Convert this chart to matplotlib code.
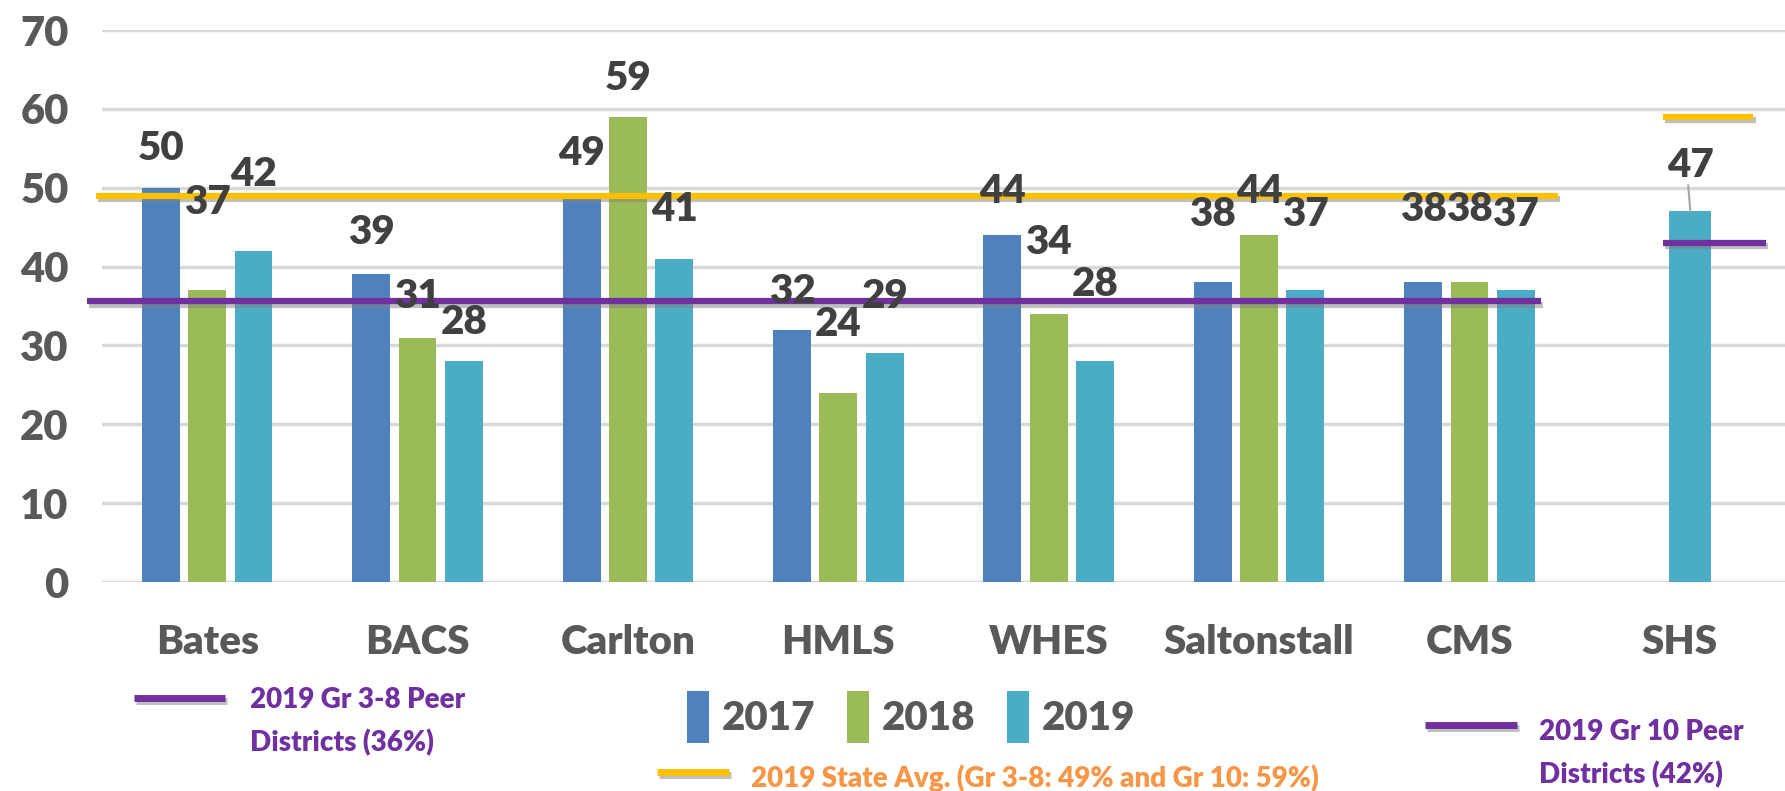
import matplotlib.pyplot as plt
import matplotlib.patheffects as pe
import numpy as np
from matplotlib.lines import Line2D
from matplotlib.patches import Patch

schools = ["Bates", "BACS", "Carlton", "HMLS", "WHES", "Saltonstall", "CMS", "SHS"]
years = ["2017", "2018", "2019"]
vals_2017 = [50, 39, 49, 32, 44, 38, 38, np.nan]
vals_2018 = [37, 31, 59, 24, 34, 44, 38, np.nan]
vals_2019 = [42, 28, 41, 29, 28, 37, 37, 47]

state_avg_38 = 49
state_avg_10 = 59
peer_38 = 35.6
peer_10 = 43

# how far each data label sits above its bar (data units), as placed in the original
label_lift = [
    [5.0, 5.3, 5.3, 4.9, 5.5, 8.6, 9.3],
    [11.1, 5.2, 4.9, 8.6, 9.0, 5.5, 9.3],
    [9.7, 4.9, 6.3, 7.2, 9.7, 9.6, 9.6, 5.8],
]

colors = ["#4F81BD", "#9BBB59", "#4BACC6"]
PURPLE = "#7030A0"
YELLOW = "#FFC000"
ORANGE = "#F79646"
GRAY = "#595959"
DARK = "#404040"

FONT = ["Lato", "DejaVu Sans"]
WEIGHT = "heavy"
plt.rcParams["font.family"] = FONT
plt.rcParams["font.weight"] = WEIGHT

W, H = 1785, 791
fig = plt.figure(figsize=(W / 100, H / 100), dpi=100)
ax = fig.add_axes([102 / W, 1 - 582 / H, 1 - 102 / W, (582 - 30) / H])

x = np.arange(len(schools))
width = 0.18
offsets = [-0.22, 0.0, 0.22]
series = [vals_2017, vals_2018, vals_2019]

shadow = [pe.SimpleLineShadow(offset=(1.5, -2.5), shadow_color="gray", alpha=0.5), pe.Normal()]

for i, (vals, col) in enumerate(zip(series, colors)):
    xs = x + offsets[i]
    w = [width] * len(x)
    if i == 2:
        xs = xs.copy()
        xs[-1] = x[-1] + 0.05
        w[-1] = 0.2
    ax.bar(xs, vals, width=w, color=col, zorder=2)
    for j, v in enumerate(vals):
        if np.isnan(v):
            continue
        ly = v + label_lift[i][j]
        ax.text(xs[j], ly, f"{v:g}", ha="center", va="center",
                fontsize=29, color=DARK, fontweight=WEIGHT, zorder=5)
        if j == len(x) - 1:
            ax.plot([xs[j] - 0.01, xs[j]], [ly - 2.5, v], color="#A6A6A6", lw=1.5, zorder=4)

# reference lines
ref_lines = [
    ([-0.53, 6.42], state_avg_38, YELLOW),
    ([-0.57, 6.34], peer_38, PURPLE),
    ([6.92, 7.35], state_avg_10, YELLOW),
    ([6.92, 7.41], peer_10, PURPLE),
]
for xr, yv, col in ref_lines:
    ax.plot(xr, [yv, yv], color=col, lw=4.5, zorder=3, path_effects=shadow,
            solid_capstyle="butt", clip_on=False)

ax.set_xlim(-0.5, 7.5)
ax.set_ylim(0, 70)
ax.set_yticks(range(0, 71, 10))
ax.set_xticks(x)
ax.set_xticklabels(schools)
ax.yaxis.grid(True, color="#D9D9D9", lw=2.5, zorder=0)
ax.set_axisbelow(True)
for s in ax.spines.values():
    s.set_visible(False)
ax.tick_params(axis="y", length=0, pad=24, labelsize=30, labelcolor=GRAY)
ax.tick_params(axis="x", length=0, pad=30, labelsize=29, labelcolor=GRAY)

# series legend
handles = [Patch(facecolor=c, edgecolor="none") for c in colors]
fig.legend(handles, years, loc="center", bbox_to_anchor=(911 / W, 1 - 717 / H),
           ncol=3, frameon=False, handlelength=0.55, handleheight=1.6,
           handletextpad=0.3, columnspacing=0.8,
           prop={"size": 29, "weight": WEIGHT, "family": FONT},
           labelcolor=GRAY)


# line keys and notes
def key_line(x0, x1, y, col):
    fig.add_artist(Line2D([x0 / W, x1 / W], [1 - y / H, 1 - y / H], color=col, lw=5,
                          path_effects=shadow, solid_capstyle="butt"))


key_line(134, 225, 698, PURPLE)
fig.text(250 / W, 1 - 722 / H, "2019 Gr 3-8 Peer\nDistricts (36%)", color=PURPLE,
         fontsize=20, fontweight=WEIGHT, va="center", ha="left", linespacing=1.7)
key_line(657, 729, 772, YELLOW)
fig.text(751 / W, 1 - 778 / H, "2019 State Avg. (Gr 3-8: 49% and Gr 10: 59%)", color=ORANGE,
         fontsize=20, fontweight=WEIGHT, va="center", ha="left")
key_line(1425, 1517, 725, PURPLE)
fig.text(1539 / W, 1 - 754 / H, "2019 Gr 10 Peer\nDistricts (42%)", color=PURPLE,
         fontsize=20, fontweight=WEIGHT, va="center", ha="left", linespacing=1.7)

fig.savefig("out.png", dpi=100)
